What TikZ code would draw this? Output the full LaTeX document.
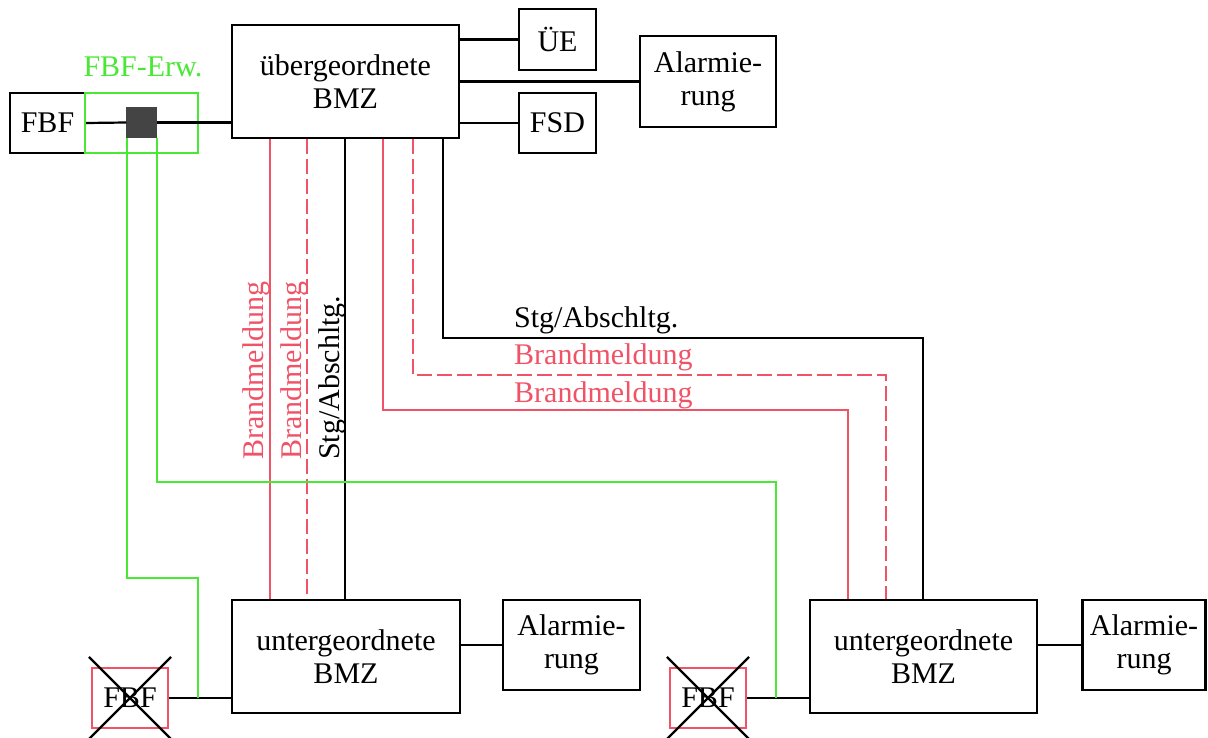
\documentclass[tikz,border=0pt]{standalone}
\usepackage{fontspec}
\setmainfont{Liberation Serif}
\definecolor{bred}{RGB}{240,82,102}
\definecolor{bgreen}{RGB}{72,232,52}
\definecolor{sqfill}{RGB}{68,68,68}
\begin{document}
\begin{tikzpicture}[x=1pt,y=-1pt,
  every node/.style={font=\fontsize{30}{33}\selectfont, align=center, inner sep=0pt},
  box/.style={draw=black, line width=2.2pt},
  xbox/.style={draw=bred, line width=2.2pt},
  ln/.style={line width=2.2pt},
  rl/.style={line width=2.2pt, draw=bred},
  rd/.style={line width=2.2pt, draw=bred, dash pattern=on 15pt off 5pt},
  gl/.style={line width=2.2pt, draw=bgreen},
  lab/.style={font=\fontsize{30}{33}\selectfont}
]
\useasboundingbox (0,0) rectangle (1208,738);
% boxes
\node[box, minimum width=75pt, minimum height=60pt] (fbf) at (47.5,123) {FBF};
\node[draw=bgreen, line width=2.2pt, minimum width=113pt, minimum height=60pt] (erw) at (141.5,123) {};
\node[fill=sqfill, draw=sqfill, minimum width=30pt, minimum height=30pt] (sq) at (141.5,122.5) {};
\node[text=bgreen, lab] (erwlab) at (143,67) {FBF-Erw.};
\node[box, minimum width=227pt, minimum height=113pt] (ob) at (345.5,81.5) {übergeordnete\\BMZ};
\node[box, minimum width=77pt, minimum height=61pt] (ue) at (557.5,39.5) {ÜE};
\node[box, minimum width=136pt, minimum height=91pt] (alo) at (708,81.5) {Alarmie-\\rung};
\node[box, minimum width=77pt, minimum height=60pt] (fsd) at (557.5,123) {FSD};
\node[box, minimum width=228pt, minimum height=113pt] (ub1) at (346,656.5) {untergeordnete\\BMZ};
\node[box, minimum width=137pt, minimum height=90pt] (al1) at (571.5,645) {Alarmie-\\rung};
\node[xbox, minimum width=76pt, minimum height=60pt] (x1) at (130,698) {FBF};
\node[box, minimum width=227pt, minimum height=113pt] (ub2) at (923.5,656.5) {untergeordnete\\BMZ};
\node[box, minimum width=123pt, minimum height=90pt] (al2) at (1144,645) {Alarmie-\\rung};
\node[xbox, minimum width=76pt, minimum height=60pt] (x2) at (708,698) {FBF};
% crosses
\draw[ln] ([shift={(-2,-10)}]x1.north west) -- ([shift={(2,10)}]x1.south east);
\draw[ln] ([shift={(2,-10)}]x1.north east) -- ([shift={(-2,10)}]x1.south west);
\draw[ln] ([shift={(-2,-10)}]x2.north west) -- ([shift={(2,10)}]x2.south east);
\draw[ln] ([shift={(2,-10)}]x2.north east) -- ([shift={(-2,10)}]x2.south west);
% black connectors top
\draw[ln] (fbf.east) -- (sq.west);
\draw[ln] (sq.east) -- (ob.west |- sq.east);
\draw[ln] (ue.west -| ob.east) -- (ue.west);
\draw[ln] (alo.west -| ob.east) -- (alo.west);
\draw[ln] (fsd.west -| ob.east) -- (fsd.west);
% bottom connectors
\draw[ln] (ub1.east |- al1.west) -- (al1.west);
\draw[ln] (ub2.east |- al2.west) -- (al2.west);
\draw[ln] (x1.east) -- (ub1.west |- x1.east);
\draw[ln] (x2.east) -- (ub2.west |- x2.east);
% vertical lines to ub1
\draw[rl] (270,0 |- ob.south) -- (270,0 |- ub1.north);
\draw[rd] (307,0 |- ob.south) -- (307,0 |- ub1.north);
\draw[ln] (345,0 |- ob.south) -- (345,0 |- ub1.north);
% lines to ub2
\coordinate (r1) at (383,410);
\coordinate (r2) at (413,375);
\coordinate (b1) at (443,338);
\draw[rl] (r1 |- ob.south) -- (r1) -| (848,0 |- ub2.north);
\draw[rd] (r2 |- ob.south) -- (r2) -| (886,0 |- ub2.north);
\draw[ln] (b1 |- ob.south) -- (b1) -| (923,0 |- ub2.north);
% green lines
\coordinate (g1) at (127,578);
\coordinate (g2) at (157,482);
\draw[gl] ([xshift=-14.5pt]sq.south) -- (g1) -| (198,0 |- x1.east);
\draw[gl] ([xshift=15.5pt]sq.south) -- (g2) -| (776,0 |- x2.east);
% labels
\node[lab, text=bred, rotate=90, anchor=west] (v1) at (256,460) {Brandmeldung};
\node[lab, text=bred, rotate=90, anchor=west] (v2) at (294,460) {Brandmeldung};
\node[lab, rotate=90, anchor=west] (v3) at (332,460) {Stg/Abschltg.};
\node[lab, anchor=west] (h1) at (514,320) {Stg/Abschltg.};
\node[lab, text=bred, anchor=west] (h2) at (514,357) {Brandmeldung};
\node[lab, text=bred, anchor=west] (h3) at (514,395) {Brandmeldung};
\end{tikzpicture}
\end{document}
